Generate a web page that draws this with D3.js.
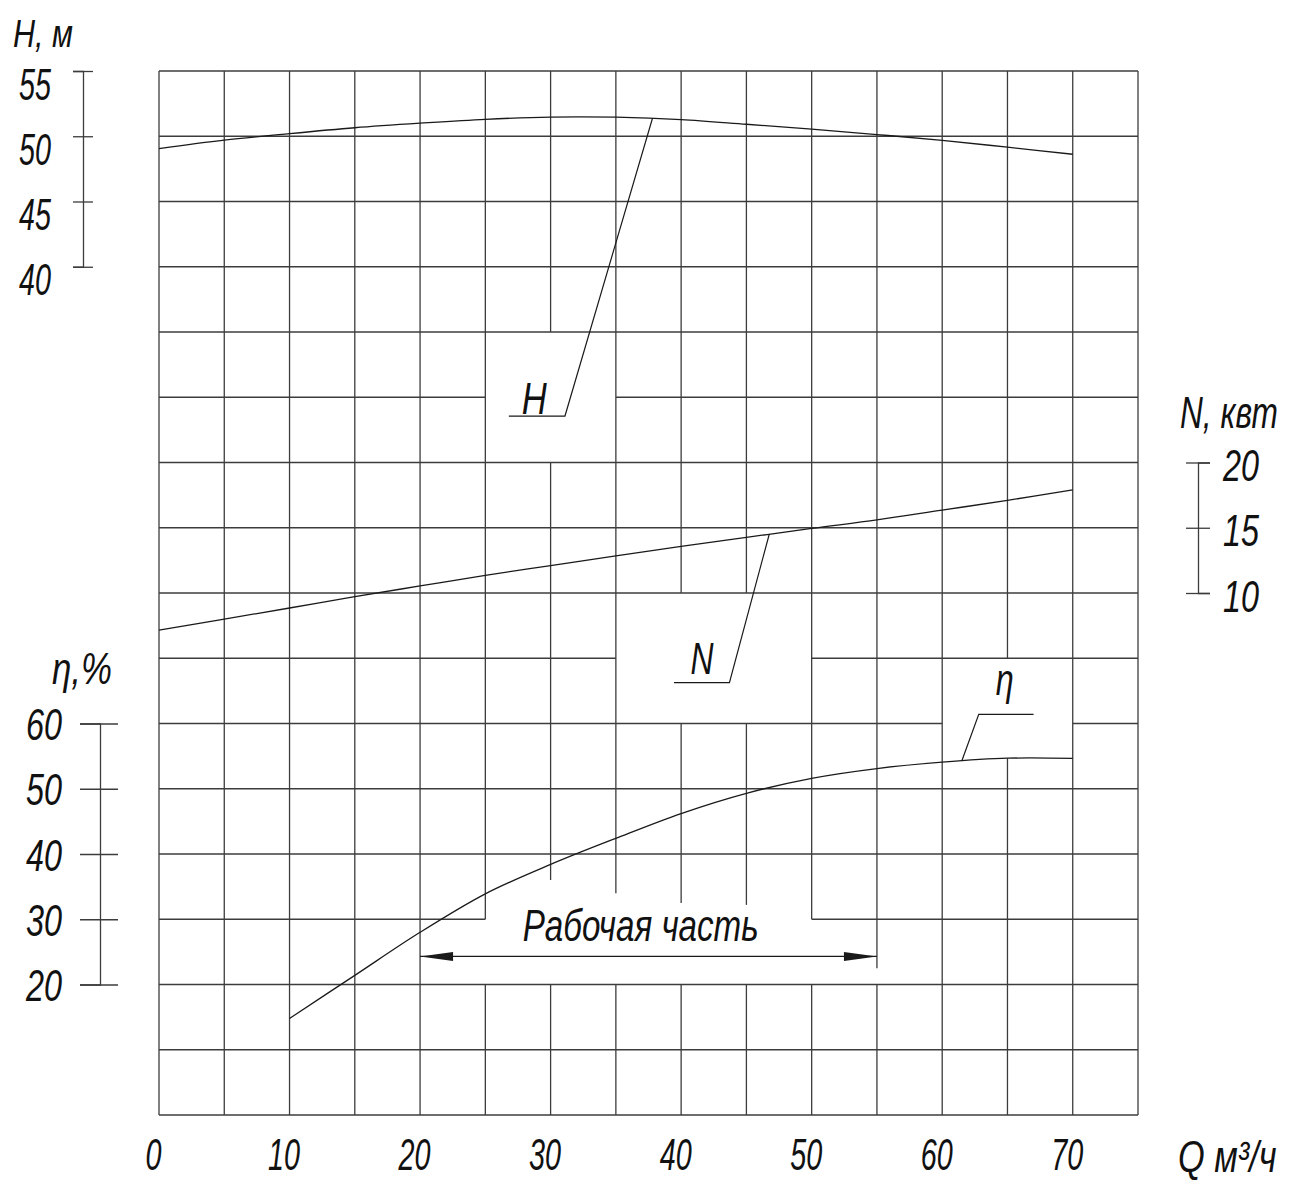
<!DOCTYPE html>
<html><head><meta charset="utf-8">
<script src="https://cdn.jsdelivr.net/npm/d3@7"></script>
<style>
body{margin:0;background:#fff;}
svg{display:block;background:#fff;}
text{font-family:"Liberation Sans","DejaVu Sans","Noto Sans",sans-serif;font-style:italic;fill:#111;}
</style></head><body>
<svg id="c" width="1295" height="1180"></svg>
<script>
// ---- data ----
const flowQ   = [0,5,10,15,20,25,30,35,40,45,50,55,60,65,70];
const headH   = [49.05,49.7,50.2,50.65,51.0,51.3,51.47,51.46,51.28,50.92,50.54,50.13,49.69,49.16,48.62];
const powerN  = [7.16,8.0,8.85,9.72,10.54,11.35,12.1,12.85,13.57,14.26,14.95,15.6,16.35,17.1,17.9];
const effQ    = [10,15,20,25,30,35,40,45,50,55,60,65,70];
const effEta  = [14.8,21.4,28.0,33.9,38.4,42.4,46.2,49.3,51.6,53.1,54.07,54.68,54.64];
const qTicks  = [0,10,20,30,40,50,60,70];
const hTicks  = [55,50,45,40];
const nTicks  = [20,15,10];
const etaTicks= [60,50,40,30,20];
const workLabel = "Рабочая часть";

// ---- scales ----
const svg = d3.select("#c");
const x   = d3.scaleLinear().domain([0,75]).range([159,1138]);
const row = d3.scaleLinear().domain([0,16]).range([71,1115]);
const yH  = d3.scaleLinear().domain([55,40]).range([row(0),row(3)]);
const yN  = d3.scaleLinear().domain([20,10]).range([row(6),row(8)]);
const yE  = d3.scaleLinear().domain([60,20]).range([row(10),row(14)]);
const hAt = d3.scaleLinear().domain(flowQ).range(headH);
const nAt = d3.scaleLinear().domain(flowQ).range(powerN);
const eAt = d3.scaleLinear().domain(effQ).range(effEta);

const ink = "#1a1a1a", gridC = "#3c3c3c";
const fit = (sel,w) => sel.attr("textLength",w).attr("lengthAdjust","spacingAndGlyphs");
const digitsW = d => String(d).length===1 ? 16 : 32;

// ---- grid with blank label areas ----
function segs(a,b,gaps){
  const out=[]; let s=a;
  gaps.slice().sort((p,q)=>p[0]-q[0]).forEach(g=>{ if(g[0]>s) out.push([s,g[0]]); s=Math.max(s,g[1]); });
  if(s<b) out.push([s,b]); return out;
}
const rowOfE = v => row.invert(yE(v));
const vGaps = {
  25:[[13,14]], 30:[[4,6],[12.4,14]], 35:[[12.6,14]],
  40:[[8,10],[12.75,14]], 45:[[8,10],[12.78,14]], 50:[[13,14]],
  55:[[13.75,14]], 65:[[9,rowOfE(eAt(65))]]
};
const hGaps = {5:[[25,35]], 9:[[35,50]], 10:[[60,70]], 13:[[25,50]]};
const gg = svg.append("g").attr("stroke",gridC).attr("stroke-width",1.3);
d3.range(0,76,5).forEach(q=>{
  segs(0,16,vGaps[q]||[]).forEach(s=>gg.append("line")
    .attr("x1",x(q)).attr("x2",x(q)).attr("y1",row(s[0])).attr("y2",row(s[1])));
});
d3.range(0,17).forEach(r=>{
  segs(0,75,hGaps[r]||[]).forEach(s=>gg.append("line")
    .attr("y1",row(r)).attr("y2",row(r)).attr("x1",x(s[0])).attr("x2",x(s[1])));
});

// ---- curves ----
const line = d3.line().curve(d3.curveCatmullRom.alpha(0.5));
[[flowQ,headH,yH],[flowQ,powerN,yN],[effQ,effEta,yE]].forEach(([qs,vs,ys])=>{
  svg.append("path").attr("d",line(qs.map((q,i)=>[x(q),ys(vs[i])])))
    .attr("fill","none").attr("stroke",ink).attr("stroke-width",1.3);
});

// ---- leaders & curve labels ----
function leader(pts){
  svg.append("path").attr("d",d3.line()(pts)).attr("fill","none").attr("stroke",ink).attr("stroke-width",1.2);
}
leader([[x(26.8),yH(28.56)],[x(31.1),yH(28.56)],[x(37.8),yH(hAt(37.8))]]);
leader([[x(39.45),yN(3.13)],[x(43.7),yN(3.13)],[x(46.75),yN(nAt(46.75))]]);
leader([[x(67.0),yE(61.4)],[x(62.8),yE(61.4)],[x(61.5),yE(eAt(61.5))]]);
fit(svg.append("text").attr("x",x(28.75)).attr("y",yH(28.7)).attr("text-anchor","middle").style("font-size","44px").text("H"),25);
fit(svg.append("text").attr("x",x(41.6)).attr("y",yN(3.8)).attr("text-anchor","middle").style("font-size","44px").text("N"),23);
fit(svg.append("text").attr("x",x(64.8)).attr("y",yE(64.3)).attr("text-anchor","middle").style("font-size","44px").text("η"),18);

// ---- working range ----
const ay = yE(24.3);
svg.append("line").attr("x1",x(20)).attr("x2",x(55)).attr("y1",ay).attr("y2",ay).attr("stroke",ink).attr("stroke-width",1.3);
[[x(20),1],[x(55),-1]].forEach(([px,dir])=>{
  svg.append("path").attr("d",`M${px},${ay}L${px+dir*33},${ay-4.5}L${px+dir*33},${ay+4.5}Z`).attr("fill",ink);
});
fit(svg.append("text").attr("x",x(36.9)).attr("y",yE(26.7)).attr("text-anchor","middle")
  .style("font-size","44px").text(workLabel),236);

// ---- axes ----
function styleAxis(g){ g.attr("font-family",null).attr("font-size",null);
  g.select(".domain").attr("stroke",gridC).attr("stroke-width",1.3);
  g.selectAll(".tick line").attr("stroke",gridC).attr("stroke-width",1.3);
  g.selectAll(".tick text").style("font-size","44px").attr("fill",ink)
    .attr("textLength",d=>digitsW(d)).attr("lengthAdjust","spacingAndGlyphs"); }

const gH = svg.append("g").attr("transform","translate(83,0)")
  .call(d3.axisLeft(yH).tickValues(hTicks).tickSizeOuter(0).tickSize(10).tickFormat(d3.format("d")));
styleAxis(gH);
gH.selectAll(".tick line").attr("x1",10).attr("x2",-10);
gH.selectAll(".tick text").attr("x",-32).attr("dy",null).attr("y",28);

const gE = svg.append("g").attr("transform","translate(100,0)")
  .call(d3.axisLeft(yE).tickValues(etaTicks).tickSizeOuter(0).tickSize(20).tickFormat(d3.format("d")));
styleAxis(gE);
gE.selectAll(".tick line").attr("x1",18).attr("x2",-20);
gE.selectAll(".tick text").attr("x",-38).attr("dy",null).attr("y",16).attr("textLength",36);

const gN = svg.append("g").attr("transform","translate(1198,0)")
  .call(d3.axisRight(yN).tickValues(nTicks).tickSizeOuter(0).tickSize(12).tickFormat(d3.format("d")));
styleAxis(gN);
gN.selectAll(".tick line").attr("x1",-12).attr("x2",12);
gN.selectAll(".tick text").attr("x",25).attr("dy",null).attr("y",18).attr("textLength",36);

const gQ = svg.append("g").attr("transform","translate(0,1115)")
  .call(d3.axisBottom(x).tickValues(qTicks).tickSize(0).tickFormat(d3.format("d")));
styleAxis(gQ);
gQ.select(".domain").remove();
gQ.selectAll(".tick text").attr("x",-6).attr("dy",null).attr("y",55);

// ---- axis titles ----
fit(svg.append("text").attr("x",13).attr("y",47).style("font-size","38px").text("H, м"),60);
fit(svg.append("text").attr("x",52).attr("y",684).style("font-size","44px").text("η,%"),60);
svg.append("g").attr("transform","translate(1180,428) scale(0.72,1)")
  .append("text").attr("x",0).attr("y",0).style("font-size","44px").text("N, квт");
svg.append("g").attr("transform","translate(1178,1172) scale(0.78,1)")
  .append("text").attr("x",0).attr("y",0).style("font-size","44px").text("Q м³/ч");
</script>
</body></html>
